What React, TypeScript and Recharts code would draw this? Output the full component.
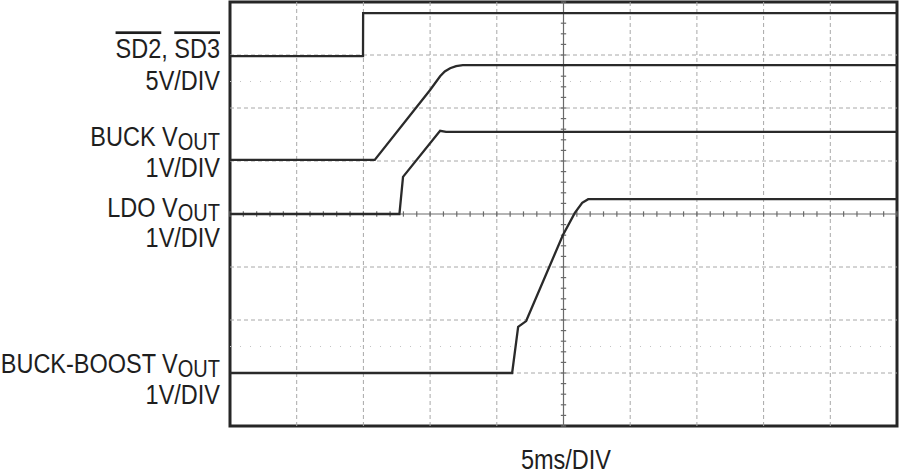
import { Line, LineChart, ReferenceArea, ReferenceLine, XAxis, YAxis } from "recharts";

// scope screen: 10 divisions of 5ms, 8 vertical divisions
const timeTicks = [0, 5, 10, 15, 20, 25, 30, 35, 40, 45, 50];
const divTicks = [0, 1, 2, 3, 4, 5, 6, 7, 8];
const dottedDivs = [1.5, 6.5];

// traces, time in ms, level in screen divisions
const sdTime = [0, 9.97, 9.98, 50];
const sdLevel = [6.98, 6.98, 7.79, 7.79];

const buckTime = [0, 10.85, 15.0, 15.75, 16.1, 16.5, 16.95, 17.45, 50];
const buckLevel = [5.02, 5.02, 6.34, 6.6, 6.69, 6.75, 6.79, 6.81, 6.81];

const ldoTime = [0, 12.7, 12.97, 15.75, 16.2, 50];
const ldoLevel = [4.0, 4.0, 4.7, 5.57, 5.55, 5.55];

const bbTime = [0, 21.15, 21.6, 22.2, 24.95, 25.85, 26.4, 26.85, 50];
const bbLevel = [1.0, 1.0, 1.87, 1.98, 3.6, 4.02, 4.21, 4.28, 4.28];

const toPoints = (t: number[], v: number[]) => t.map((x, i) => ({ t: x, v: v[i] }));

const sdData = toPoints(sdTime, sdLevel);
const buckData = toPoints(buckTime, buckLevel);
const ldoData = toPoints(ldoTime, ldoLevel);
const bbData = toPoints(bbTime, bbLevel);

const minorTimes = Array.from({ length: 51 }, (_, i) => i);
const minorDivs = Array.from({ length: 41 }, (_, i) => i * 0.2);

const FONT = "'Liberation Sans', Arial, sans-serif";
const TRACE = "#2a2a2a";
const SQUEEZE = 0.87; // condensed look of the original lettering

function Label({ x, y, anchor = "end", children }: { x: number; y: number; anchor?: string; children: any }) {
  return (
    <g transform={`translate(${x} ${y}) scale(${SQUEEZE} 1)`}>
      <text x={0} y={0} textAnchor={anchor}>
        {children}
      </text>
    </g>
  );
}

function Labels() {
  const sub = { fontSize: 23 };
  return (
    <svg
      width={900}
      height={474}
      style={{ position: "absolute", left: 0, top: 0, pointerEvents: "none" }}
      fontFamily={FONT}
      fontSize={27}
      fill="#1e1e1e"
    >
      <Label x={220} y={58}>
        <tspan textDecoration="overline">SD2</tspan>
        <tspan>, </tspan>
        <tspan textDecoration="overline">SD3</tspan>
      </Label>
      <Label x={220} y={90}>5V/DIV</Label>
      <Label x={220} y={146}>
        BUCK V<tspan dy={4} {...sub}>OUT</tspan>
      </Label>
      <Label x={220} y={177}>1V/DIV</Label>
      <Label x={220} y={217}>
        LDO V<tspan dy={4} {...sub}>OUT</tspan>
      </Label>
      <Label x={220} y={247}>1V/DIV</Label>
      <Label x={220} y={373}>
        BUCK-BOOST V<tspan dy={4} {...sub}>OUT</tspan>
      </Label>
      <Label x={220} y={404}>1V/DIV</Label>
      <Label x={566} y={469} anchor="middle">5ms/DIV</Label>
    </svg>
  );
}

export default function App() {
  return (
    <div style={{ position: "absolute", left: 0, top: 0, width: 900, height: 474, background: "#fff" }}>
      <LineChart width={900} height={474} margin={{ top: 2, right: 3, bottom: 48, left: 230 }}>
        <XAxis type="number" dataKey="t" domain={[0, 50]} ticks={timeTicks} hide allowDataOverflow />
        <YAxis type="number" domain={[0, 8]} ticks={divTicks} hide allowDataOverflow />

        {timeTicks.slice(1, -1).map((t) =>
          t === 25 ? null : (
            <ReferenceLine key={`vx${t}`} x={t} stroke="#a8a8a8" strokeWidth={1} strokeDasharray="4 3" />
          )
        )}
        {divTicks.slice(1, -1).map((d) =>
          d === 4 ? null : (
            <ReferenceLine key={`hy${d}`} y={d} stroke="#a8a8a8" strokeWidth={1} strokeDasharray="4 3" />
          )
        )}
        {dottedDivs.map((d) => (
          <ReferenceLine key={`dot${d}`} y={d} stroke="#c4c4c4" strokeWidth={1} strokeDasharray="1 9" />
        ))}

        <ReferenceLine x={25} stroke="#6a6a6a" strokeWidth={1.2} />
        <ReferenceLine y={4} stroke="#6a6a6a" strokeWidth={1.2} />
        {minorTimes.map((t) => (
          <ReferenceLine
            key={`mt${t}`}
            segment={[
              { x: t, y: 3.95 },
              { x: t, y: 4.05 },
            ]}
            stroke="#6a6a6a"
            strokeWidth={1.2}
          />
        ))}
        {minorDivs.map((d) => (
          <ReferenceLine
            key={`md${d}`}
            segment={[
              { x: 24.8, y: d },
              { x: 25.2, y: d },
            ]}
            stroke="#6a6a6a"
            strokeWidth={1.2}
          />
        ))}

        <Line data={sdData} dataKey="v" type="linear" stroke={TRACE} strokeWidth={2.3} dot={false} isAnimationActive={false} />
        <Line data={buckData} dataKey="v" type="linear" stroke={TRACE} strokeWidth={2.3} dot={false} isAnimationActive={false} />
        <Line data={ldoData} dataKey="v" type="linear" stroke={TRACE} strokeWidth={2.3} dot={false} isAnimationActive={false} />
        <Line data={bbData} dataKey="v" type="linear" stroke={TRACE} strokeWidth={2.3} dot={false} isAnimationActive={false} />

        <ReferenceArea x1={0} x2={50} y1={0} y2={8} fill="none" stroke="#262626" strokeWidth={3} />
      </LineChart>
      <Labels />
    </div>
  );
}
